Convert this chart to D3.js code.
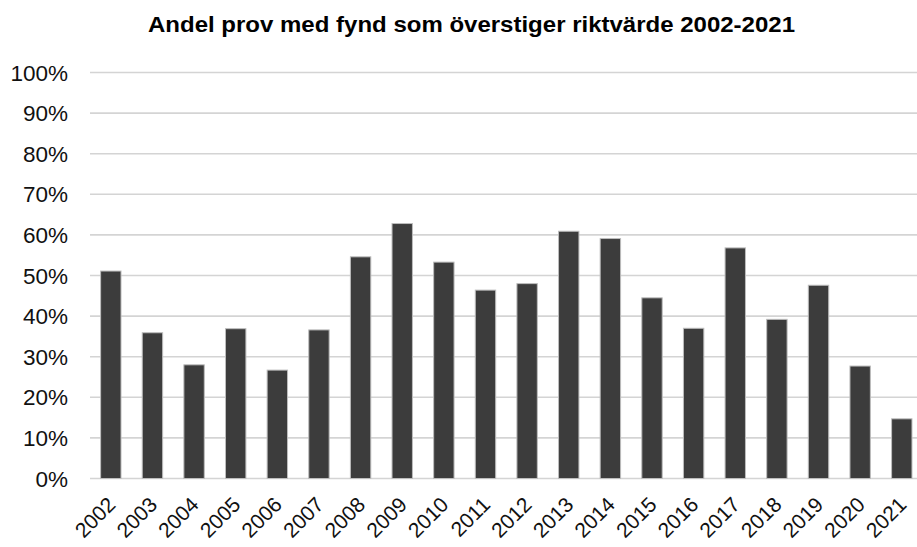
<!DOCTYPE html>
<html>
<head>
<meta charset="utf-8">
<script src="https://cdn.jsdelivr.net/npm/d3@7"></script>
<style>
  body { margin: 0; background: #fff; }
  text { font-family: "Liberation Sans", Arial, sans-serif; }
</style>
</head>
<body>
<div id="chart"></div>
<script>

var years = ["2002","2003","2004","2005","2006","2007","2008","2009","2010","2011",
             "2012","2013","2014","2015","2016","2017","2018","2019","2020","2021"]

// share of samples above guideline value
var shares = [0.511, 0.359, 0.280, 0.369, 0.267, 0.366, 0.546, 0.628, 0.533, 0.464,
              0.480, 0.609, 0.591, 0.445, 0.370, 0.568, 0.392, 0.476, 0.277, 0.147]

var yTicks = [0, 0.1, 0.2, 0.3, 0.4, 0.5, 0.6, 0.7, 0.8, 0.9, 1]

var title = "Andel prov med fynd som överstiger riktvärde 2002-2021"

var width = 917
var height = 547

var x = d3.scaleBand()
  .domain(years)
  .range([90, 922.6])
  .paddingInner(0.51)
  .paddingOuter(0.255)

var y = d3.scaleLinear()
  .domain([0, 1])
  .range([478.5, 72.5])

var formatPercent = d3.format(".0%")

const svg = d3.select("#chart").append("svg")
  .attr("width", width)
  .attr("height", height)

svg.append("text")
  .attr("x", 471.5)
  .attr("y", 32)
  .attr("text-anchor", "middle")
  .attr("font-weight", "bold")
  .attr("font-size", "22px")
  .attr("textLength", 647)
  .attr("lengthAdjust", "spacingAndGlyphs")
  .attr("fill", "#000")
  .text(title)

// gridlines
svg.append("g")
  .selectAll("line")
  .data(yTicks)
  .enter().append("line")
    .attr("x1", 90)
    .attr("x2", width)
    .attr("y1", d => y(d))
    .attr("y2", d => y(d))
    .style("stroke", "#d4d4d4")
    .style("stroke-width", "1.6px")

// y labels
svg.append("g")
  .selectAll("text")
  .data(yTicks)
  .enter().append("text")
    .attr("x", 68)
    .attr("y", d => y(d))
    .attr("dy", "0.36em")
    .attr("text-anchor", "end")
    .attr("font-size", "22.5px")
    .attr("fill", "#111")
    .text(d => formatPercent(d))

// bars
svg.append("g")
  .selectAll("rect")
  .data(shares)
  .enter().append("rect")
    .attr("x", (d, i) => x(years[i]))
    .attr("y", d => y(d))
    .attr("width", x.bandwidth())
    .attr("height", d => y(0) - y(d))
    .style("fill", "#3c3c3c")
    .style("stroke", "#bdbdbd")
    .style("stroke-width", "1px")

// x labels
svg.append("g")
  .selectAll("text")
  .data(years)
  .enter().append("text")
    .attr("transform", d => `translate(${x(d) + x.bandwidth()/2 + 6}, 506) rotate(-45)`)
    .attr("text-anchor", "end")
    .attr("font-size", "21px")
    .attr("fill", "#111")
    .text(d => d)

</script>
</body>
</html>
